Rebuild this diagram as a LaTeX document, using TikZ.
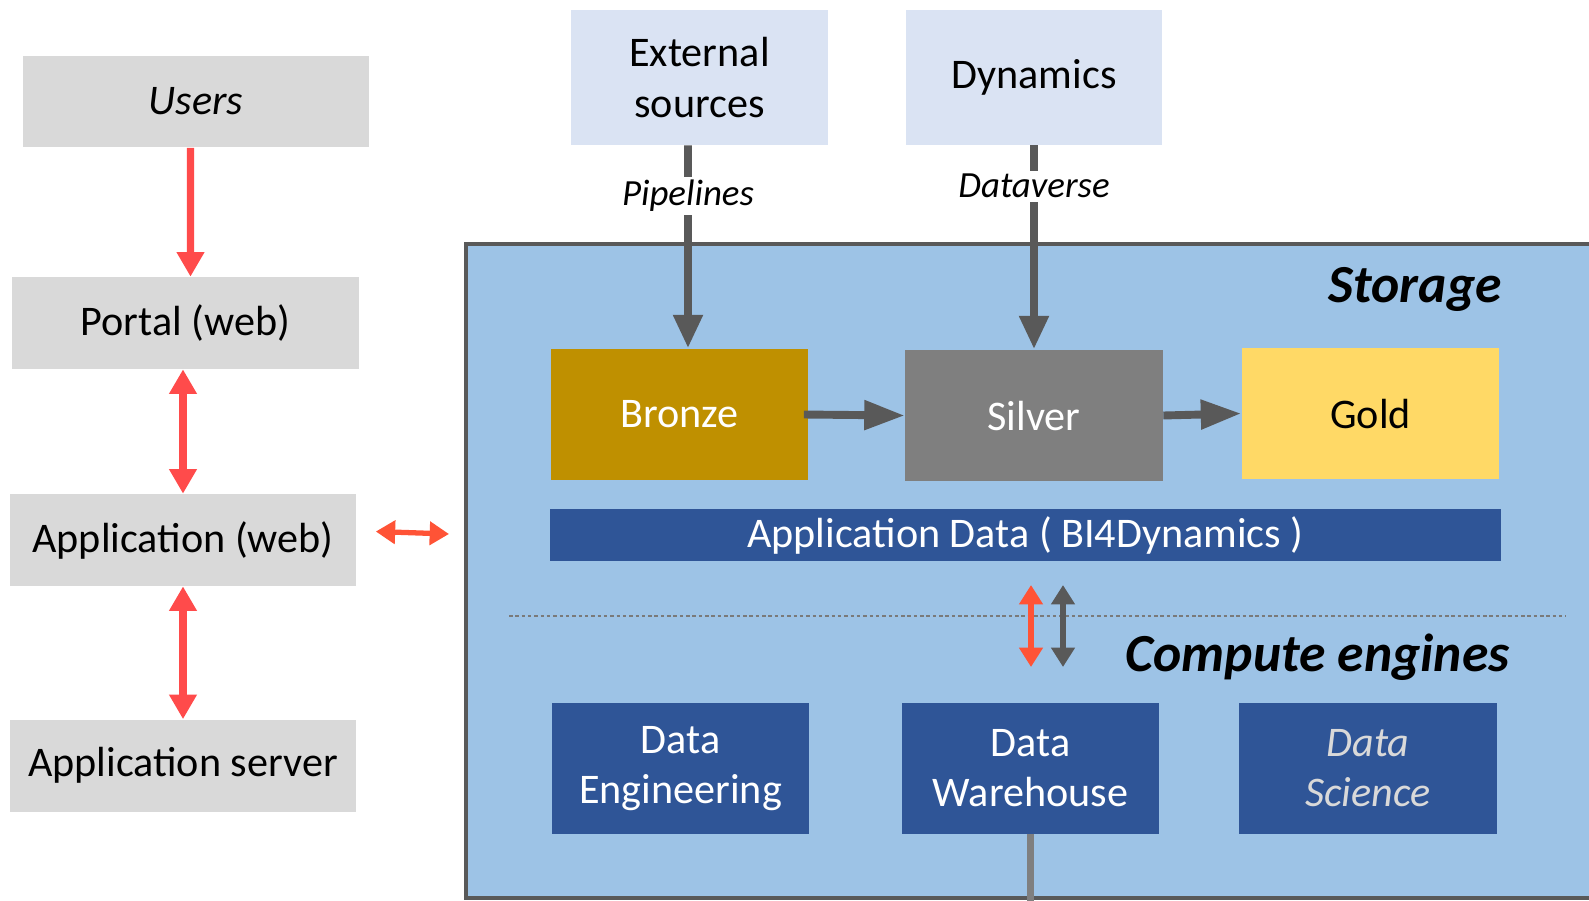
\documentclass[tikz,border=0pt]{standalone}
\usepackage{fontspec}
\setmainfont{Carlito}
\usepackage{tikz}
\usetikzlibrary{positioning,arrows.meta}
\usepackage{xcolor}
\definecolor{boxgray}{HTML}{D9D9D9}
\definecolor{srcblue}{HTML}{DAE3F3}
\definecolor{storefill}{HTML}{9DC3E6}
\definecolor{darkline}{HTML}{595959}
\definecolor{bronzec}{HTML}{BF9000}
\definecolor{silverc}{HTML}{7F7F7F}
\definecolor{goldc}{HTML}{FFD966}
\definecolor{navy}{HTML}{2F5597}
\definecolor{redarr}{HTML}{FF4B4B}
\definecolor{orangearr}{HTML}{FF5336}

\begin{document}
\begin{tikzpicture}[x=0.02cm, y=-0.02cm,
    txt/.style={font=\fontsize{24}{28.5}\selectfont, align=center, inner sep=0pt},
    graybox/.style={txt, fill=boxgray, minimum width=6.94cm, minimum height=1.84cm},
    srcbox/.style={txt, fill=srcblue, minimum width=5.14cm, minimum height=2.7cm},
    layer/.style={txt, minimum width=5.16cm, minimum height=2.64cm},
    engine/.style={txt, fill=navy, text=white, minimum width=5.16cm, minimum height=2.62cm},
    label/.style={font=\fontsize{21}{25}\selectfont\itshape, fill=white, inner sep=2pt},
    heading/.style={font=\fontsize{30.5}{36}\selectfont\bfseries\itshape, anchor=east, inner sep=0pt},
    redflow/.style={draw=redarr, line width=4pt, -{Triangle[length=14pt,width=15pt]}},
    redboth/.style={draw=redarr, line width=4pt, {Triangle[length=14pt,width=15pt]}-{Triangle[length=14pt,width=15pt]}},
    orboth/.style={draw=orangearr, line width=3pt, {Triangle[length=11pt,width=13pt]}-{Triangle[length=11pt,width=13pt]}},
    grayboth/.style={draw=darkline, line width=3pt, {Triangle[length=11pt,width=13pt]}-{Triangle[length=11pt,width=13pt]}},
    grayflow/.style={draw=darkline, line width=4.5pt, -{Triangle[length=19pt,width=16pt]}},
    grayside/.style={draw=darkline, line width=4.5pt, -{Triangle[length=23pt,width=16pt]}}]

    \useasboundingbox (0,0) rectangle (1589,900);
    \clip (0,0) rectangle (1589,900);

    % storage area
    \draw[fill=storefill, draw=darkline, line width=2.8pt] (466,244) rectangle (1640,898);
    \node[heading] at (1502,289) (storage) {Storage};
    \draw[darkline!80, line width=1.2pt, dash pattern=on 2pt off 1.6pt] (509,616) -- (1566,616);
    \node[heading] at (1510,657) (compute) {Compute engines};

    % left column
    \node[graybox] at (196,101.5) (users) {\textit{Users}};
    \node[graybox] at (185.5,323) (portal) {Portal (web)};
    \node[graybox] at (183,540) (appweb) {Application (web)};
    \node[graybox] at (183,765.5) (server) {Application server};

    % sources
    \node[srcbox] at (699.5,77.5) (ext) {External\\sources};
    \node[srcbox] at (1034,77.5) (dyn) {Dynamics};

    % layers
    \node[layer, fill=bronzec, text=white] at (679.5,414.5) (bronze) {Bronze};
    \node[layer, fill=silverc, text=white] at (1034,415.5) (silver) {Silver};
    \node[layer, fill=goldc] at (1370.5,413.5) (gold) {Gold};
    \node[txt, fill=navy, text=white, minimum width=19.02cm, minimum height=1.04cm]
        at (1025.5,535) (appdata) {Application Data ( BI4Dynamics )};

    % engines
    \node[engine] at (680.5,768.5) (de) {Data\\Engineering};
    \node[engine] at (1030.5,768.5) (dw) {Data\\Warehouse};
    \node[engine, text=boxgray] at (1368,768.5) (ds) {\textit{Data}\\\textit{Science}};

    \coordinate (storein) at (449,534);
    \coordinate (redtop) at (1031,585);
    \coordinate (redbot) at (1031,667);
    \coordinate (graytop) at (1063,585);
    \coordinate (graybot) at (1063,667);
    \coordinate (dwout) at (1030.5,905);

    \draw[redflow] ([xshift=-0.11cm]users.south) -- ([xshift=0.1cm]portal.north);
    \draw[redboth] (portal.south -| appweb.north) -- (appweb.north);
    \draw[redboth] (appweb.south) -- (server.north);
    \draw[orboth] ([xshift=0.38cm,yshift=0.17cm]appweb.east) -- (storein);

    \draw[grayflow] ([xshift=-0.23cm]ext.south) -- node[label, pos=0.25] (pipes) {Pipelines} ([xshift=0.17cm]bronze.north);
    \draw[grayflow] (dyn.south) -- node[label, pos=0.2] (dverse) {Dataverse} (silver.north);
    \draw[grayside] ([xshift=-0.1cm]bronze.east) -- (silver.west);
    \draw[grayside] (silver.east) -- (gold.west);

    \draw[orboth] (redtop) -- (redbot);
    \draw[grayboth] (graytop) -- (graybot);
    \draw[silverc, line width=4pt] (dw.south) -- (dwout);
  \end{tikzpicture}
\end{document}
